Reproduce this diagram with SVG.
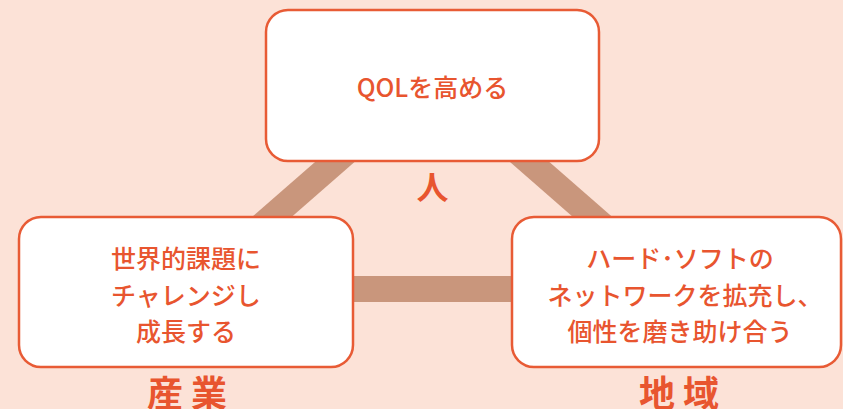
<svg xmlns="http://www.w3.org/2000/svg" width="843" height="409" viewBox="0 0 843 409">
<style>
.box{fill:#ffffff;stroke:#e85b35;stroke-width:2.5}
.bar{stroke:#c9967c;stroke-width:26;fill:none}
.t{font-family:"Noto Sans CJK JP","Noto Sans",sans-serif;font-size:25px;font-weight:500;fill:#e8552f;text-anchor:middle}
.lbl{font-family:"Noto Sans CJK JP","Noto Sans",sans-serif;font-weight:700;fill:#e8552f;text-anchor:middle}
</style>
<rect width="843" height="409" fill="#fce2d7"/>
<g id="connectors">
<line class="bar" x1="360" y1="140" x2="245.5" y2="240"/>
<line class="bar" x1="504.5" y1="140" x2="619" y2="240"/>
<line class="bar" x1="330" y1="289" x2="530" y2="289"/>
</g>
<g id="node-people">
<rect class="box" x="266" y="10" width="333" height="151" rx="22"/>
<text class="t" x="432.5" y="97" font-size="26">QOLを高める</text>
<text class="lbl" x="432.5" y="199" font-size="32">人</text>
</g>
<g id="node-industry">
<rect class="box" x="19" y="217" width="334" height="150" rx="22"/>
<text class="t" x="186" y="268">世界的課題に</text>
<text class="t" x="186" y="305">チャレンジし</text>
<text class="t" x="186" y="341">成長する</text>
<text class="lbl" x="187" y="407" font-size="36">産 業</text>
</g>
<g id="node-region">
<rect class="box" x="512" y="217" width="329" height="150" rx="22"/>
<text class="t" x="680" y="268">ハード･ソフトの</text>
<text class="t" x="685" y="305">ネットワークを拡充し、</text>
<text class="t" x="680" y="341">個性を磨き助け合う</text>
<text class="lbl" x="679" y="407" font-size="36">地 域</text>
</g>
</svg>
